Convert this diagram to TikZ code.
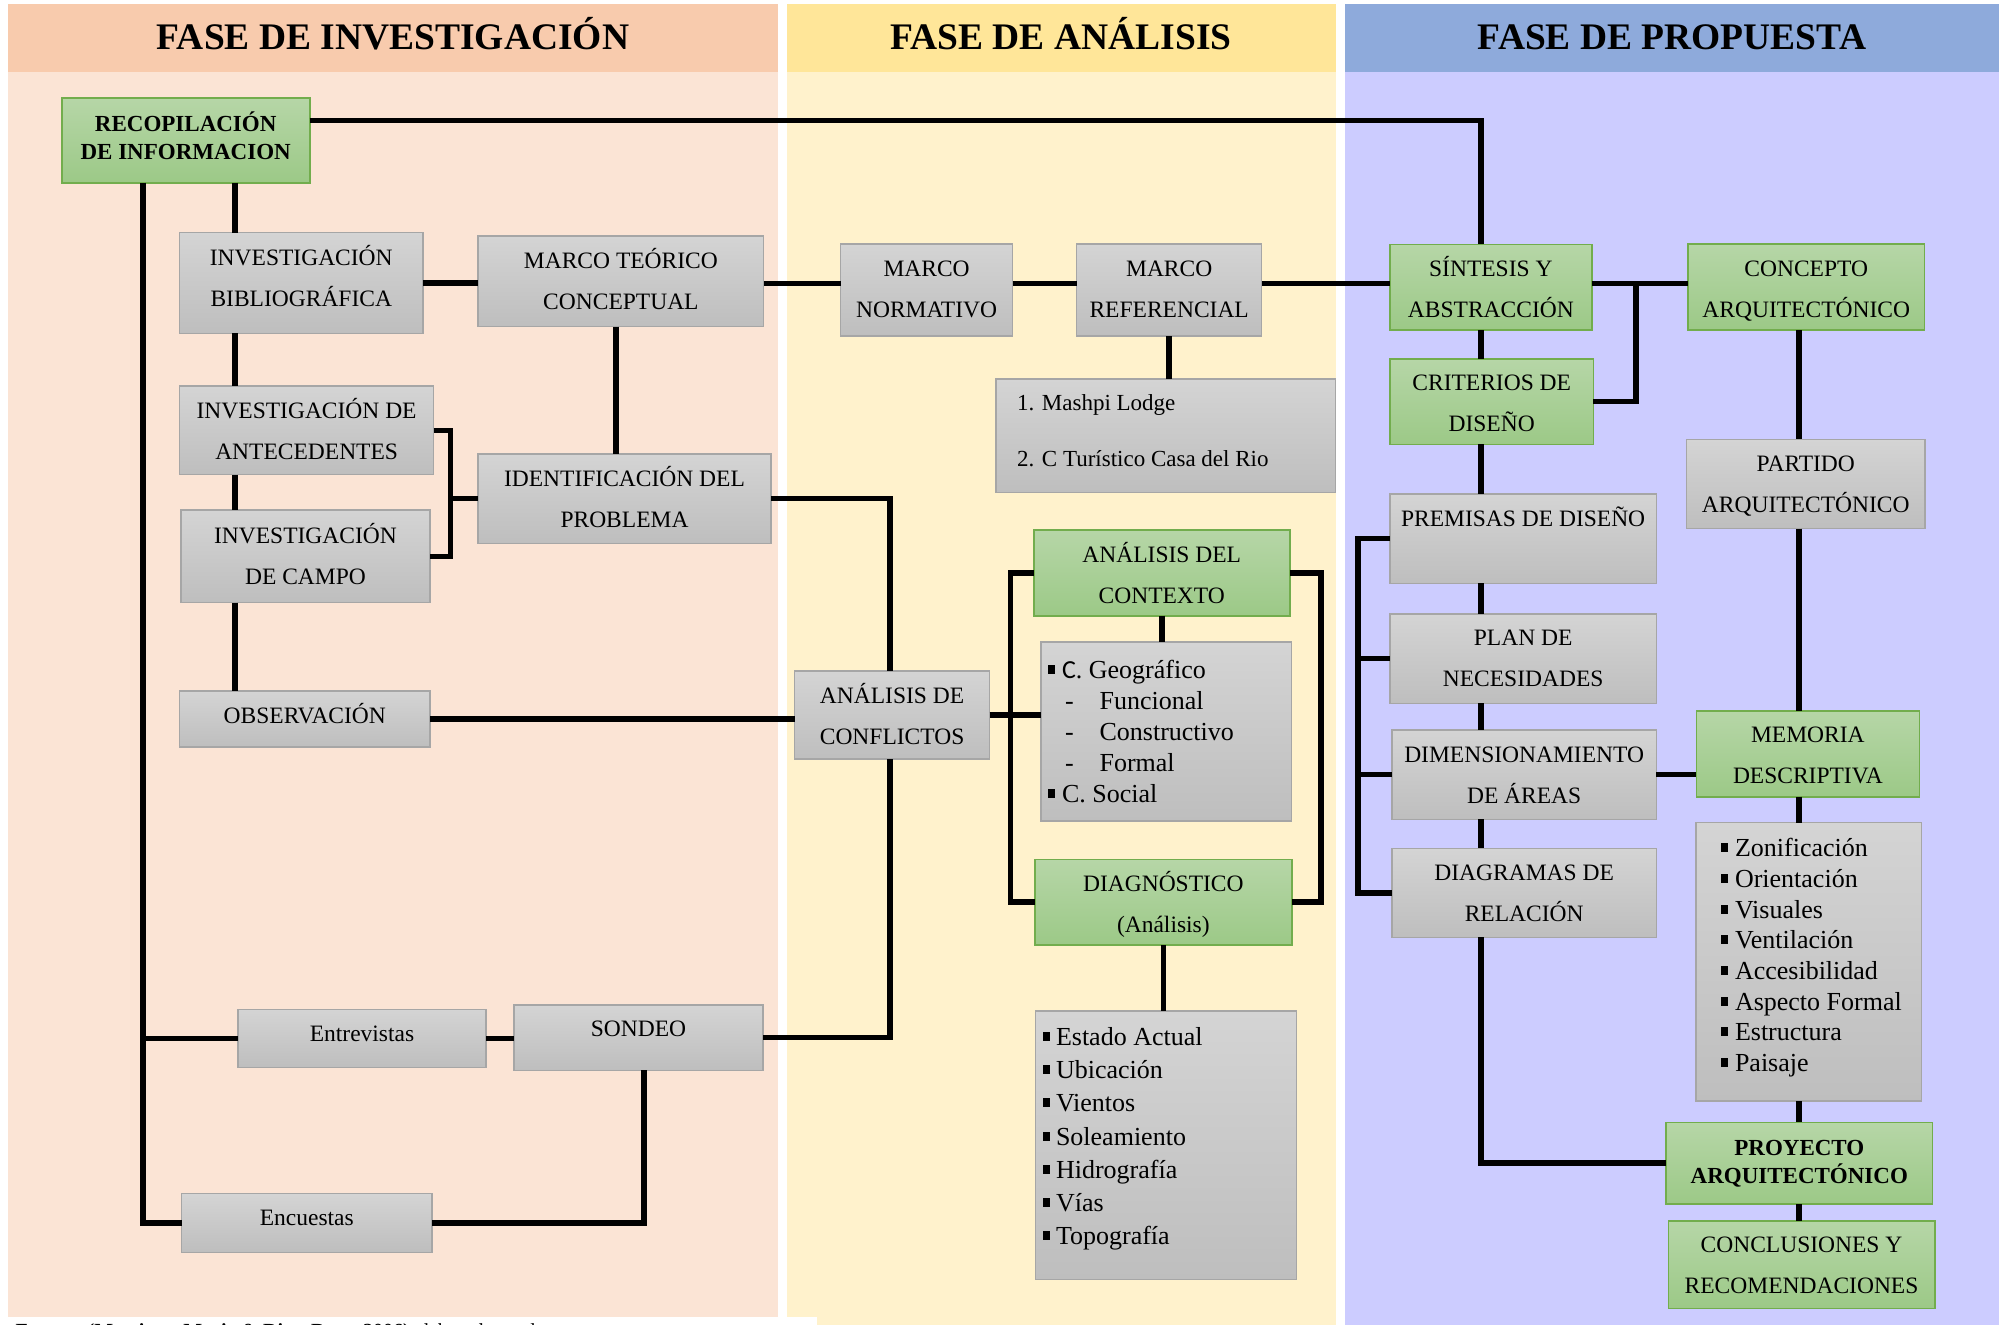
\documentclass[tikz,border=0pt]{standalone}
\usepackage{fontspec}
\setmainfont{Liberation Serif}
\newfontfamily\carl{Carlito}
\definecolor{pAh}{HTML}{F8CBAD}
\definecolor{pAb}{HTML}{FBE4D5}
\definecolor{pBh}{HTML}{FFE699}
\definecolor{pBb}{HTML}{FFF2CC}
\definecolor{pCh}{HTML}{8EAADB}
\definecolor{pCb}{HTML}{CCCCFF}
\definecolor{gtop}{HTML}{D4D4D4}
\definecolor{gbot}{HTML}{BEBEBE}
\definecolor{gedge}{HTML}{A6A6A6}
\definecolor{vtop}{HTML}{B6D6A7}
\definecolor{vbot}{HTML}{9CC987}
\definecolor{vedge}{HTML}{72AD4D}
\newcommand\bx[4]{\parbox[c][#2pt][t]{#1pt}{\centering\vspace*{\dimexpr#3pt-25pt\relax}\rule{0pt}{25pt}#4\par}}
\newcommand\bxl[5]{\parbox[c][#2pt][t]{#1pt}{\raggedright\leftskip=#4pt\relax\vspace*{\dimexpr#3pt-25pt\relax}\rule{0pt}{25pt}#5\par}}
\newcommand\bul[1]{\makebox[#1pt][l]{\rule[4.5pt]{6.5pt}{9pt}}}
\newcommand\dsh{\hspace*{17pt}\makebox[34.6pt][l]{-}}
\tikzset{
  conn/.style={line width=5.5pt, line join=miter},
  gbox/.style={draw=gedge, line width=1.3pt, top color=gtop, bottom color=gbot, inner sep=0pt, outer sep=0pt, anchor=north west, font=\fontsize{23.5}{41}\selectfont},
  vbox/.style={draw=vedge, line width=1.6pt, top color=vtop, bottom color=vbot, inner sep=0pt, outer sep=0pt, anchor=north west, font=\fontsize{23.5}{41}\selectfont},
  vbold/.style={vbox, font=\bfseries\fontsize{23}{28}\selectfont},
  lst/.style={gbox, font=\fontsize{26}{#1}\selectfont},
  ttl/.style={anchor=base, font=\bfseries\fontsize{37.5}{40}\selectfont}
}
\begin{document}
\begin{tikzpicture}[x=1pt,y=-1pt]
\clip (0,0) rectangle (2006,1325);
\fill[white] (0,0) rectangle (2006,1325);
% panels
\fill[pAb] (8,72) rectangle (778,1325);
\fill[pAh] (8,4) rectangle (778,72);
\fill[pBb] (787,72) rectangle (1336,1325);
\fill[pBh] (787,4) rectangle (1336,72);
\fill[pCb] (1345,72) rectangle (1999,1325);
\fill[pCh] (1345,4) rectangle (1999,72);
\fill[white] (0,1317) rectangle (817,1325);
\node[ttl] (t1) at (393,49.3) {FASE DE INVESTIGACIÓN};
\node[ttl] (t2) at (1061,49.3) {FASE DE ANÁLISIS};
\node[ttl] (t3) at (1672,49.3) {FASE DE PROPUESTA};
\node[anchor=base west, font=\fontsize{20}{24}\selectfont] (src) at (12,1337) {\textbf{Fuente: (Martinez, Mario \& Rios, Rosa, 2006)} elaborado por los autores};
% coordinates for trunks
\coordinate (yTop) at (0,120.7);
\coordinate (yM) at (0,283.3);
\coordinate (xL) at (143,0);
\coordinate (xB) at (235,0);
\coordinate (xQ) at (450.5,0);
\coordinate (xT) at (616,0);
\coordinate (xD) at (644,0);
\coordinate (xA) at (890,0);
\coordinate (xE) at (1010.4,0);
\coordinate (xF) at (1320.8,0);
\coordinate (xK) at (1358,0);
\coordinate (xS) at (1481,0);
\coordinate (xC) at (1636,0);
\coordinate (xM) at (1799,0);
% boxes
\node[vbold] (rec) at (61.7,97.7) {\bx{248}{85}{33.3}{RECOPILACIÓN\\DE INFORMACION}};
\node[gbox] (ib) at (179.6,232.7) {\bx{243.4}{100.6}{32.3}{INVESTIGACIÓN\\BIBLIOGRÁFICA}};
\node[gbox] (mt) at (478,236) {\bx{285.8}{90.7}{32}{MARCO TEÓRICO\\CONCEPTUAL}};
\node[gbox] (ia) at (179.6,386) {\bx{254.1}{88.7}{32}{INVESTIGACIÓN DE\\ANTECEDENTES}};
\node[gbox] (idp) at (478,454) {\bx{293}{89.3}{32.7}{IDENTIFICACIÓN DEL\\PROBLEMA}};
\node[gbox] (ic) at (181,510) {\bx{249}{92.7}{33.3}{INVESTIGACIÓN\\DE CAMPO}};
\node[gbox] (obs) at (179.6,691) {\bx{250.4}{56}{32}{OBSERVACIÓN}};
\node[gbox] (ent) at (238,1009.3) {\bx{248}{58}{32.4}{Entrevistas}};
\node[gbox] (son) at (514,1005) {\bx{249}{65.3}{31.7}{SONDEO}};
\node[gbox] (enc) at (181.6,1193.7) {\bx{250.4}{58.6}{31.3}{Encuestas}};
\node[gbox] (mn) at (840.5,244) {\bx{172.2}{92}{32}{MARCO\\NORMATIVO}};
\node[gbox] (mr) at (1076.6,244) {\bx{185.2}{92}{32}{MARCO\\REFERENCIAL}};
\node[gbox, font=\fontsize{23}{56}\selectfont] (mash) at (996,379) {\bxl{339.7}{113.3}{31}{21}{1. Mashpi Lodge\\2. C Turístico Casa del Rio}};
\node[gbox] (ac) at (794.5,671) {\bx{195.2}{88}{32}{ANÁLISIS DE\\CONFLICTOS}};
\node[vbox] (adc) at (1033.7,530) {\bx{256.1}{85.7}{32}{ANÁLISIS DEL\\CONTEXTO}};
\node[lst=31.2] (geo) at (1041,642) {\bxl{250.7}{179}{36}{7}{\bul{14}{\carl C}. Geográfico\\\dsh Funcional\\\dsh Constructivo\\\dsh Formal\\\bul{14}C. Social}};
\node[vbox] (dg) at (1035,859.3) {\bx{256.7}{85.7}{31.7}{DIAGNÓSTICO\\(Análisis)}};
\node[lst=33.1] (est) at (1035.6,1011) {\bxl{261}{268.3}{34.7}{7.4}{\bul{13}Estado Actual\\\bul{13}Ubicación\\\bul{13}Vientos\\\bul{13}Soleamiento\\\bul{13}Hidrografía\\\bul{13}Vías\\\bul{13}Topografía}};
\node[vbox] (sa) at (1390,244.3) {\bx{201.7}{85.7}{32.4}{SÍNTESIS Y\\ABSTRACCIÓN}};
\node[vbox] (ca) at (1688,243.7) {\bx{236.5}{86.3}{33}{CONCEPTO\\ARQUITECTÓNICO}};
\node[vbox] (cd) at (1390,358.7) {\bx{203.4}{85.6}{32}{CRITERIOS DE\\DISEÑO}};
\node[gbox] (pd) at (1390,494) {\bx{266.3}{89.3}{32.7}{PREMISAS DE DISEÑO}};
\node[gbox] (pn) at (1390,614) {\bx{266.3}{89.3}{31}{PLAN DE\\NECESIDADES}};
\node[gbox] (da) at (1392,730) {\bx{264.3}{89.3}{32.7}{DIMENSIONAMIENTO\\DE ÁREAS}};
\node[gbox] (dr) at (1392,848.3) {\bx{264.3}{89}{31.7}{DIAGRAMAS DE\\RELACIÓN}};
\node[gbox] (pa) at (1686.5,439.3) {\bx{238.5}{89.4}{32.4}{PARTIDO\\ARQUITECTÓNICO}};
\node[vbox] (md) at (1696.4,710.7) {\bx{222.9}{86}{32}{MEMORIA\\DESCRIPTIVA}};
\node[lst=30.7] (zon) at (1696,822.7) {\bxl{225.4}{278.3}{34}{25.4}{\bul{13.6}Zonificación\\\bul{13.6}Orientación\\\bul{13.6}Visuales\\\bul{13.6}Ventilación\\\bul{13.6}Accesibilidad\\\bul{13.6}Aspecto Formal\\\bul{13.6}Estructura\\\bul{13.6}Paisaje}};
\node[vbold] (pya) at (1666,1122.3) {\bx{266.6}{81.7}{32.7}{PROYECTO\\ARQUITECTÓNICO}};
\node[vbox] (cr) at (1668.4,1220.7) {\bx{266.3}{87.6}{32}{CONCLUSIONES Y\\RECOMENDACIONES}};
% connectors
\draw[conn] (rec.east |- yTop) -| (xS |- sa.north);
\draw[conn] (xL |- rec.south) |- (enc.west);
\draw[conn] (xL |- ent.west) -- (ent.west);
\draw[conn] (xB |- rec.south) -- (xB |- ib.north);
\draw[conn] (xB |- ib.south) -- (xB |- ia.north);
\draw[conn] (xB |- ia.south) -- (xB |- ic.north);
\draw[conn] (xB |- ic.south) -- (xB |- obs.north);
\draw[conn] (ib.east) -- (ib.east -| mt.west);
\draw[conn] (mt.east |- yM) -- (mn.west |- yM);
\draw[conn] (mn.east |- yM) -- (mr.west |- yM);
\draw[conn] (mr.east |- yM) -- (sa.west |- yM);
\draw[conn] (sa.east |- yM) -- (ca.west |- yM);
\draw[conn] (xC |- yM) |- (cd.east);
\draw[conn] (xS |- sa.south) -- (xS |- cd.north);
\draw[conn] (xS |- cd.south) -- (xS |- pd.north);
\draw[conn] (xS |- pd.south) -- (xS |- pn.north);
\draw[conn] (xS |- pn.south) -- (xS |- da.north);
\draw[conn] (xS |- da.south) -- (xS |- dr.north);
\draw[conn] (xS |- dr.south) |- (pya.west);
\draw[conn] (pd.west) -| (xK |- dr.west) -- (dr.west);
\draw[conn] (xK |- pn.west) -- (pn.west);
\draw[conn] (xK |- da.west) -- (da.west);
\draw[conn] (xT |- mt.south) -- (xT |- idp.north);
\draw[conn] (ia.east) -| (xQ |- ic.east) -- (ic.east);
\draw[conn] (xQ |- idp.west) -- (idp.west);
\draw[conn] (idp.east) -| (xA |- ac.north);
\draw[conn] (obs.east) -- (obs.east -| ac.west);
\draw[conn] (xA |- ac.south) |- (son.east);
\draw[conn] (ent.east) -- (ent.east -| son.west);
\draw[conn] (xD |- son.south) |- (enc.east);
\draw[conn] (ac.east) -- (ac.east -| geo.west);
\draw[conn] (adc.west) -| (xE |- dg.west) -- (dg.west);
\draw[conn] (adc.east) -| (xF |- dg.east) -- (dg.east);
\draw[conn] (adc.south) -- (adc.south |- geo.north);
\draw[conn] (mr.south) -- (mr.south |- mash.north);
\draw[conn] (dg.south) -- (dg.south |- est.north);
\draw[conn] (xM |- ca.south) -- (xM |- pa.north);
\draw[conn] (xM |- pa.south) -- (xM |- md.north);
\draw[conn] (xM |- md.south) -- (xM |- zon.north);
\draw[conn] (xM |- zon.south) -- (xM |- pya.north);
\draw[conn] (xM |- pya.south) -- (xM |- cr.north);
\draw[conn] (da.east) -- (da.east -| md.west);
\end{tikzpicture}
\end{document}
